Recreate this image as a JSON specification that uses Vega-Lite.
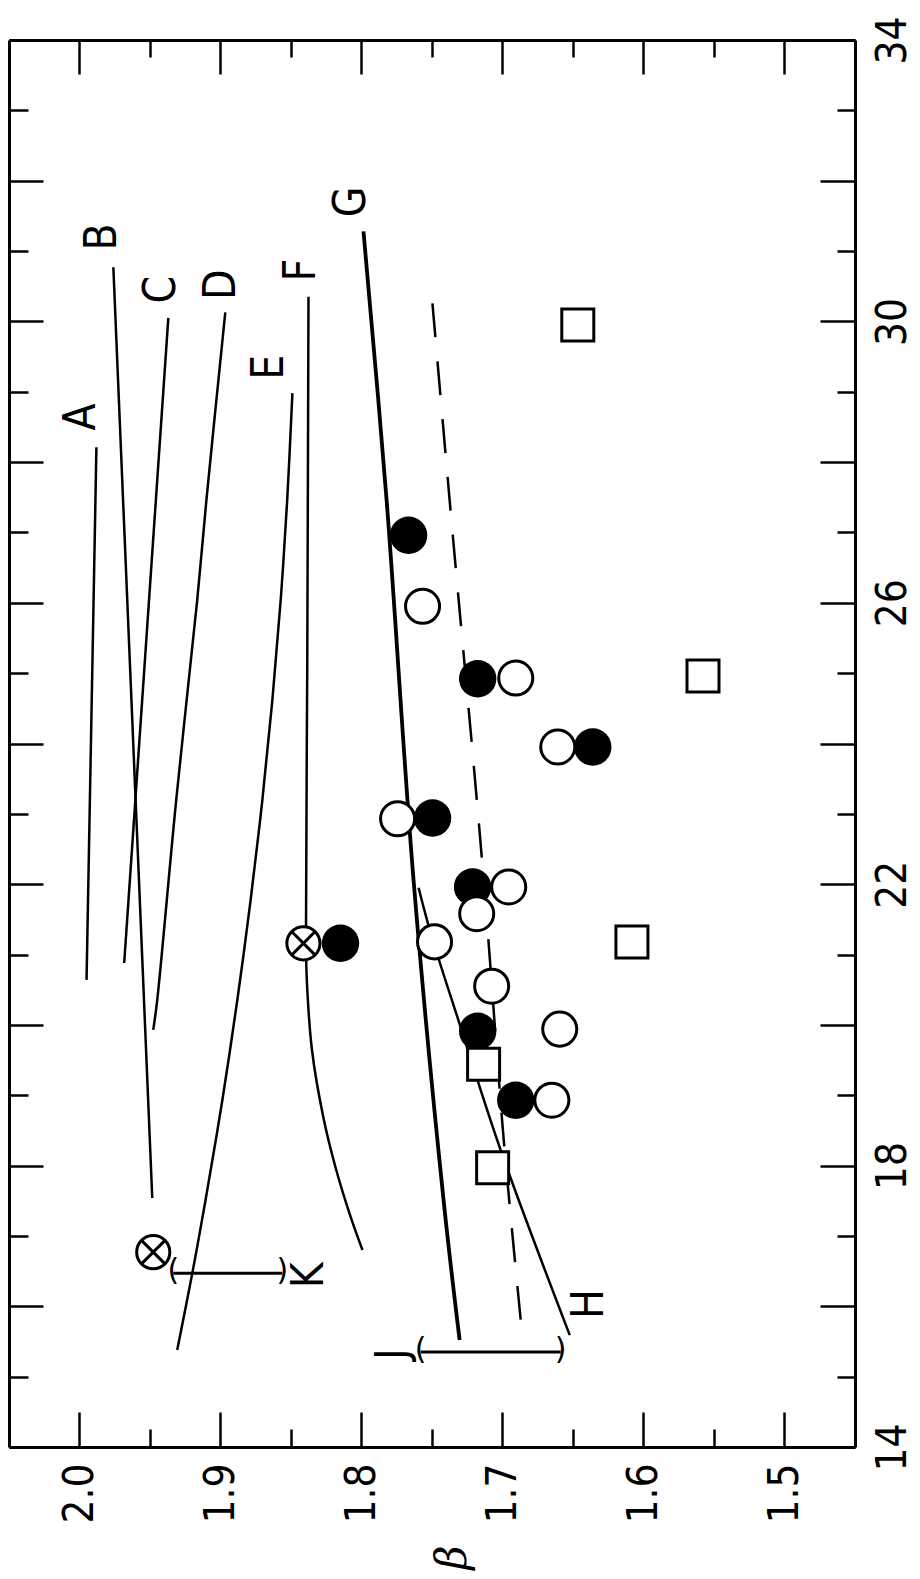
{
  "$schema": "https://vega.github.io/schema/vega-lite/v6.json",
  "width": 846,
  "height": 1407,
  "autosize": {"type": "none"},
  "padding": {"left": 9, "top": 40, "right": 65, "bottom": 132},
  "background": "white",
  "config": {"view": {"stroke": null}},
  "datasets": {
    "curves": [
      {"curve": "A", "beta": 1.995, "T": 20.64},
      {"curve": "A", "beta": 1.988, "T": 28.21},
      {"curve": "B", "beta": 1.9484, "T": 17.54},
      {"curve": "B", "beta": 1.976, "T": 30.77},
      {"curve": "C", "beta": 1.9683, "T": 20.88},
      {"curve": "C", "beta": 1.937, "T": 30.05},
      {"curve": "D", "beta": 1.9477, "T": 19.93},
      {"curve": "D", "beta": 1.9449, "T": 20.35},
      {"curve": "D", "beta": 1.9314, "T": 23.2},
      {"curve": "D", "beta": 1.9165, "T": 26.04},
      {"curve": "D", "beta": 1.91, "T": 27.46},
      {"curve": "D", "beta": 1.8966, "T": 30.13},
      {"curve": "E", "beta": 1.9307, "T": 15.38},
      {"curve": "E", "beta": 1.92, "T": 16.47},
      {"curve": "E", "beta": 1.9106, "T": 17.51},
      {"curve": "E", "beta": 1.8987, "T": 18.93},
      {"curve": "E", "beta": 1.8881, "T": 20.35},
      {"curve": "E", "beta": 1.8786, "T": 21.78},
      {"curve": "E", "beta": 1.8703, "T": 23.2},
      {"curve": "E", "beta": 1.8632, "T": 24.62},
      {"curve": "E", "beta": 1.8573, "T": 26.04},
      {"curve": "E", "beta": 1.8527, "T": 27.46},
      {"curve": "E", "beta": 1.849, "T": 28.98},
      {"curve": "F", "beta": 1.7993, "T": 16.8},
      {"curve": "F", "beta": 1.8077, "T": 17.27},
      {"curve": "F", "beta": 1.8185, "T": 17.98},
      {"curve": "F", "beta": 1.8271, "T": 18.69},
      {"curve": "F", "beta": 1.8351, "T": 19.64},
      {"curve": "F", "beta": 1.8387, "T": 20.6},
      {"curve": "F", "beta": 1.8394, "T": 21.16},
      {"curve": "F", "beta": 1.8385, "T": 25.0},
      {"curve": "F", "beta": 1.8376, "T": 30.35},
      {"curve": "H", "beta": 1.6523, "T": 15.59},
      {"curve": "H", "beta": 1.7013, "T": 18.22},
      {"curve": "H", "beta": 1.7297, "T": 19.97},
      {"curve": "H", "beta": 1.751, "T": 21.31},
      {"curve": "H", "beta": 1.7595, "T": 21.95},
      {"curve": "G", "beta": 1.7304, "T": 15.52},
      {"curve": "G", "beta": 1.7418, "T": 17.51},
      {"curve": "G", "beta": 1.7631, "T": 22.06},
      {"curve": "G", "beta": 1.7822, "T": 27.46},
      {"curve": "G", "beta": 1.7986, "T": 31.28},
      {"curve": "dashed", "beta": 1.6871, "T": 15.81},
      {"curve": "dashed", "beta": 1.6991, "T": 18.36},
      {"curve": "dashed", "beta": 1.7141, "T": 22.24},
      {"curve": "dashed", "beta": 1.7375, "T": 27.46},
      {"curve": "dashed", "beta": 1.751, "T": 30.56}
    ],
    "points": [
      {"kind": "filled", "beta": 1.7666, "T": 26.96},
      {"kind": "filled", "beta": 1.7176, "T": 24.92},
      {"kind": "filled", "beta": 1.636, "T": 23.95},
      {"kind": "filled", "beta": 1.7496, "T": 22.94},
      {"kind": "filled", "beta": 1.7212, "T": 21.96},
      {"kind": "filled", "beta": 1.8149, "T": 21.16},
      {"kind": "filled", "beta": 1.7176, "T": 19.91},
      {"kind": "filled", "beta": 1.6906, "T": 18.93},
      {"kind": "open", "beta": 1.7567, "T": 25.95},
      {"kind": "open", "beta": 1.6906, "T": 24.93},
      {"kind": "open", "beta": 1.6608, "T": 23.95},
      {"kind": "open", "beta": 1.7744, "T": 22.93},
      {"kind": "open", "beta": 1.6956, "T": 21.96},
      {"kind": "open", "beta": 1.7183, "T": 21.58},
      {"kind": "open", "beta": 1.7482, "T": 21.18},
      {"kind": "open", "beta": 1.7077, "T": 20.55},
      {"kind": "open", "beta": 1.6594, "T": 19.94},
      {"kind": "open", "beta": 1.665, "T": 18.93},
      {"kind": "square", "beta": 1.6082, "T": 21.18},
      {"kind": "square", "beta": 1.7134, "T": 19.44},
      {"kind": "square", "beta": 1.707, "T": 17.97},
      {"kind": "square", "beta": 1.6466, "T": 29.95},
      {"kind": "square", "beta": 1.5578, "T": 24.96},
      {"kind": "otimes", "beta": 1.8412, "T": 21.16},
      {"kind": "otimes", "beta": 1.9477, "T": 16.77}
    ],
    "labels": [
      {"label": "A", "beta": 1.9982, "T": 28.64},
      {"label": "B", "beta": 1.9832, "T": 31.2},
      {"label": "C", "beta": 1.9413, "T": 30.45},
      {"label": "D", "beta": 1.8987, "T": 30.52},
      {"label": "E", "beta": 1.8646, "T": 29.35},
      {"label": "F", "beta": 1.8419, "T": 30.73},
      {"label": "G", "beta": 1.8064, "T": 31.7},
      {"label": "H", "beta": 1.638, "T": 16.03},
      {"label": "J", "beta": 1.7773, "T": 15.32},
      {"label": "K", "beta": 1.8362, "T": 16.44}
    ],
    "bars": [
      {"bar": "K", "b1": 1.9335, "b2": 1.8561, "T": 16.47},
      {"bar": "J", "b1": 1.7581, "b2": 1.6587, "T": 15.35}
    ]
  },
  "resolve": {"axis": {"x": "independent", "y": "independent"}},
  "layer": [
    {
      "data": {"name": "curves"},
      "transform": [{"filter": "datum.curve != 'G' && datum.curve != 'dashed'"}],
      "mark": {"type": "line", "color": "black", "strokeWidth": 2.5, "interpolate": "catmull-rom"},
      "encoding": {
        "x": {
          "field": "beta", "type": "quantitative",
          "scale": {"domain": [1.45, 2.05], "reverse": true, "nice": false, "zero": false},
          "axis": {
            "orient": "bottom",
            "values": [2.0, 1.95, 1.9, 1.85, 1.8, 1.75, 1.7, 1.65, 1.6, 1.55, 1.5],
            "labelExpr": "abs(datum.value*10 - round(datum.value*10)) < 0.01 ? format(datum.value, '.1f') : ''",
            "labelAngle": 270, "labelAlign": "right", "labelBaseline": "middle",
            "labelFont": "Liberation Sans Narrow, DejaVu Sans Condensed, sans-serif",
            "labelFontSize": 42, "labelColor": "black", "labelPadding": 51,
            "labelOverlap": false, "labelFlush": false, "labelBound": false,
            "tickSize": {"condition": {"test": "abs(datum.value*10 - round(datum.value*10)) < 0.01", "value": -35}, "value": -18},
            "tickColor": "black", "tickWidth": 2.5,
            "domainColor": "black", "domainWidth": 3, "grid": false,
            "title": "β", "titleAngle": 270, "titleFont": "DejaVu Serif", "titleFontStyle": "italic",
            "titleFontSize": 42, "titleFontWeight": "normal", "titleColor": "black", "titlePadding": 34
          }
        },
        "y": {
          "field": "T", "type": "quantitative",
          "scale": {"domain": [14, 34], "nice": false, "zero": false},
          "axis": {
            "orient": "right",
            "values": [14, 15, 16, 17, 18, 19, 20, 21, 22, 23, 24, 25, 26, 27, 28, 29, 30, 31, 32, 33, 34],
            "labelExpr": "(datum.value - 14) % 4 == 0 ? datum.label : ''",
            "labelAngle": 270, "labelAlign": "center", "labelBaseline": "top",
            "labelFont": "Liberation Sans Narrow, DejaVu Sans Condensed, sans-serif",
            "labelFontSize": 42, "labelColor": "black", "labelPadding": 52,
            "labelOverlap": false, "labelFlush": false, "labelBound": false,
            "tickSize": {"condition": {"test": "datum.value % 2 == 0", "value": -35}, "value": -18},
            "tickColor": "black", "tickWidth": 2.5,
            "domainColor": "black", "domainWidth": 3, "grid": false, "title": null
          }
        },
        "detail": {"field": "curve"},
        "order": {"field": "T", "type": "quantitative"}
      }
    },
    {
      "data": {"name": "curves"},
      "transform": [{"filter": "datum.curve == 'G'"}],
      "mark": {"type": "line", "color": "black", "strokeWidth": 3.8, "interpolate": "catmull-rom"},
      "encoding": {
        "x": {
          "field": "beta", "type": "quantitative",
          "axis": {
            "orient": "top",
            "values": [2.0, 1.95, 1.9, 1.85, 1.8, 1.75, 1.7, 1.65, 1.6, 1.55, 1.5],
            "labels": false,
            "tickSize": {"condition": {"test": "abs(datum.value*10 - round(datum.value*10)) < 0.01", "value": -34}, "value": -17},
            "tickColor": "black", "tickWidth": 2.5,
            "domainColor": "black", "domainWidth": 3, "grid": false, "title": null
          }
        },
        "y": {
          "field": "T", "type": "quantitative",
          "axis": {
            "orient": "left",
            "values": [14, 15, 16, 17, 18, 19, 20, 21, 22, 23, 24, 25, 26, 27, 28, 29, 30, 31, 32, 33, 34],
            "labels": false,
            "tickSize": {"condition": {"test": "datum.value % 2 == 0", "value": -34}, "value": -19},
            "tickColor": "black", "tickWidth": 2.5,
            "domainColor": "black", "domainWidth": 3, "grid": false, "title": null
          }
        },
        "order": {"field": "T", "type": "quantitative"}
      }
    },
    {
      "data": {"name": "curves"},
      "transform": [{"filter": "datum.curve == 'dashed'"}],
      "mark": {"type": "line", "color": "black", "strokeWidth": 2.5, "strokeDash": [34, 24], "interpolate": "catmull-rom"},
      "encoding": {
        "x": {"field": "beta", "type": "quantitative", "axis": null},
        "y": {"field": "T", "type": "quantitative", "axis": null},
        "order": {"field": "T", "type": "quantitative"}
      }
    },
    {
      "data": {"name": "bars"},
      "mark": {"type": "rule", "color": "black", "strokeWidth": 3},
      "encoding": {
        "x": {"field": "b1", "type": "quantitative", "axis": null},
        "x2": {"field": "b2"},
        "y": {"field": "T", "type": "quantitative", "axis": null}
      }
    },
    {
      "data": {"name": "bars"},
      "mark": {"type": "text", "text": "(", "font": "DejaVu Sans", "fontSize": 30, "color": "black", "align": "center", "baseline": "middle", "dy": -2},
      "encoding": {
        "x": {"field": "b1", "type": "quantitative", "axis": null},
        "y": {"field": "T", "type": "quantitative", "axis": null}
      }
    },
    {
      "data": {"name": "bars"},
      "mark": {"type": "text", "text": ")", "font": "DejaVu Sans", "fontSize": 30, "color": "black", "align": "center", "baseline": "middle", "dy": -2},
      "encoding": {
        "x": {"field": "b2", "type": "quantitative", "axis": null},
        "y": {"field": "T", "type": "quantitative", "axis": null}
      }
    },
    {
      "data": {"name": "points"},
      "transform": [{"filter": "datum.kind == 'filled'"}],
      "mark": {"type": "point", "shape": "circle", "filled": true, "color": "black", "opacity": 1, "size": 1400},
      "encoding": {
        "x": {"field": "beta", "type": "quantitative", "axis": null},
        "y": {"field": "T", "type": "quantitative", "axis": null}
      }
    },
    {
      "data": {"name": "points"},
      "transform": [{"filter": "datum.kind == 'open'"}],
      "mark": {"type": "point", "shape": "circle", "filled": true, "fill": "white", "stroke": "black", "strokeWidth": 3, "opacity": 1, "size": 1160},
      "encoding": {
        "x": {"field": "beta", "type": "quantitative", "axis": null},
        "y": {"field": "T", "type": "quantitative", "axis": null}
      }
    },
    {
      "data": {"name": "points"},
      "transform": [{"filter": "datum.kind == 'square'"}],
      "mark": {"type": "point", "shape": "square", "filled": true, "fill": "white", "stroke": "black", "strokeWidth": 3, "opacity": 1, "size": 1024},
      "encoding": {
        "x": {"field": "beta", "type": "quantitative", "axis": null},
        "y": {"field": "T", "type": "quantitative", "axis": null}
      }
    },
    {
      "data": {"name": "points"},
      "transform": [{"filter": "datum.kind == 'otimes'"}],
      "mark": {"type": "point", "shape": "M-1,0A1,1,0,1,1,1,0A1,1,0,1,1,-1,0ZM-0.68,-0.68L0.68,0.68M-0.68,0.68L0.68,-0.68", "filled": false, "fill": "white", "stroke": "black", "strokeWidth": 3, "opacity": 1, "size": 1100},
      "encoding": {
        "x": {"field": "beta", "type": "quantitative", "axis": null},
        "y": {"field": "T", "type": "quantitative", "axis": null}
      }
    },
    {
      "data": {"name": "labels"},
      "mark": {"type": "text", "angle": 270, "align": "center", "baseline": "middle", "font": "Liberation Sans Narrow, DejaVu Sans Condensed, sans-serif", "fontSize": 44, "color": "black"},
      "encoding": {
        "x": {"field": "beta", "type": "quantitative", "axis": null},
        "y": {"field": "T", "type": "quantitative", "axis": null},
        "text": {"field": "label"}
      }
    }
  ]
}
